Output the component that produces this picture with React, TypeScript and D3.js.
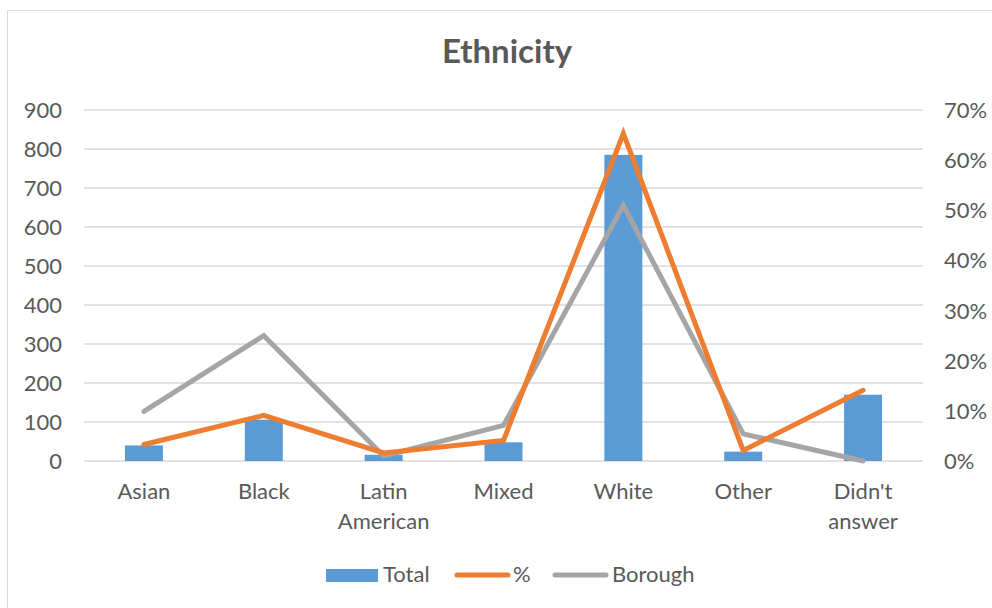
import React from "react";
import * as d3 from "d3";

// Combo chart: Total (bars, left axis) with % and Borough lines on the right axis.
const categories = ["Asian", "Black", "Latin American", "Mixed", "White", "Other", "Didn't answer"];
const totals = [40, 106, 16, 48, 785, 24, 170];
const pct = [0.033, 0.091, 0.016, 0.041, 0.653, 0.021, 0.141];
const borough = [0.099, 0.25, 0.01, 0.071, 0.51, 0.054, 0.0];
const leftTicks = [0, 100, 200, 300, 400, 500, 600, 700, 800, 900];
const rightTicks = [0, 0.1, 0.2, 0.3, 0.4, 0.5, 0.6, 0.7];

const labelLines: Record<string, string[]> = {
  "Latin American": ["Latin", "American"],
  "Didn't answer": ["Didn't", "answer"],
};

export default function App() {
  const W = 992;
  const H = 608;
  const plot = { left: 84, right: 923, top: 110, bottom: 461 };
  const font = "Lato, 'Open Sans', sans-serif";
  const textColor = "#595959";
  const fs = 22;

  const x = d3.scaleBand<string>().domain(categories).range([plot.left, plot.right]).padding(0);
  const y = d3.scaleLinear().domain([0, 900]).range([plot.bottom, plot.top]);
  const y2 = d3.scaleLinear().domain([0, 0.7]).range([plot.bottom, plot.top]);
  const barW = x.bandwidth() * 0.317;
  const cx = (c: string) => (x(c) ?? 0) + x.bandwidth() / 2;

  const line = d3
    .line<number>()
    .x((_, i) => cx(categories[i]))
    .y((d) => y2(d));

  return (
    <svg
      width={W}
      height={H}
      style={{ position: "absolute", left: 0, top: 0, background: "#fff" }}
      fontFamily={font}
    >
      <rect x={7.5} y={10.5} width={W + 10} height={H + 10} fill="#fff" stroke="#D9D9D9" />
      <text x={507} y={63} textAnchor="middle" fontSize={33} fontWeight="bold" fill={textColor}>
        Ethnicity
      </text>

      {leftTicks.map((t) => (
        <g key={t}>
          <line x1={plot.left} x2={plot.right} y1={y(t)} y2={y(t)} stroke="#D9D9D9" strokeWidth={1.5} />
          <text x={62} y={y(t) + 8} textAnchor="end" fontSize={fs} fill={textColor}>
            {t}
          </text>
        </g>
      ))}
      {rightTicks.map((t) => (
        <text key={t} x={944} y={y2(t) + 8} fontSize={fs} fill={textColor}>
          {d3.format(".0%")(t)}
        </text>
      ))}

      {categories.map((c, i) => (
        <rect
          key={c}
          x={cx(c) - barW / 2}
          y={y(totals[i])}
          width={barW}
          height={plot.bottom - y(totals[i])}
          fill="#5B9BD5"
        />
      ))}

      <path d={line(borough) ?? ""} fill="none" stroke="#A5A5A5" strokeWidth={5} strokeLinecap="round" />
      <path d={line(pct) ?? ""} fill="none" stroke="#ED7D31" strokeWidth={5} strokeLinecap="round" />

      {categories.map((c) => {
        const lines = labelLines[c] ?? [c];
        return (
          <text key={c} textAnchor="middle" fontSize={fs} fill={textColor}>
            {lines.map((l, j) => (
              <tspan key={j} x={cx(c)} y={499 + j * 30}>
                {l}
              </tspan>
            ))}
          </text>
        );
      })}

      <g fontSize={fs} fill={textColor}>
        <rect x={326} y={569} width={52} height={13} fill="#5B9BD5" />
        <text x={383} y={582}>Total</text>
        <line x1={457} x2={508} y1={575} y2={575} stroke="#ED7D31" strokeWidth={5} strokeLinecap="round" />
        <text x={513} y={582}>%</text>
        <line x1={555} x2={606} y1={575} y2={575} stroke="#A5A5A5" strokeWidth={5} strokeLinecap="round" />
        <text x={612} y={582}>Borough</text>
      </g>
    </svg>
  );
}
